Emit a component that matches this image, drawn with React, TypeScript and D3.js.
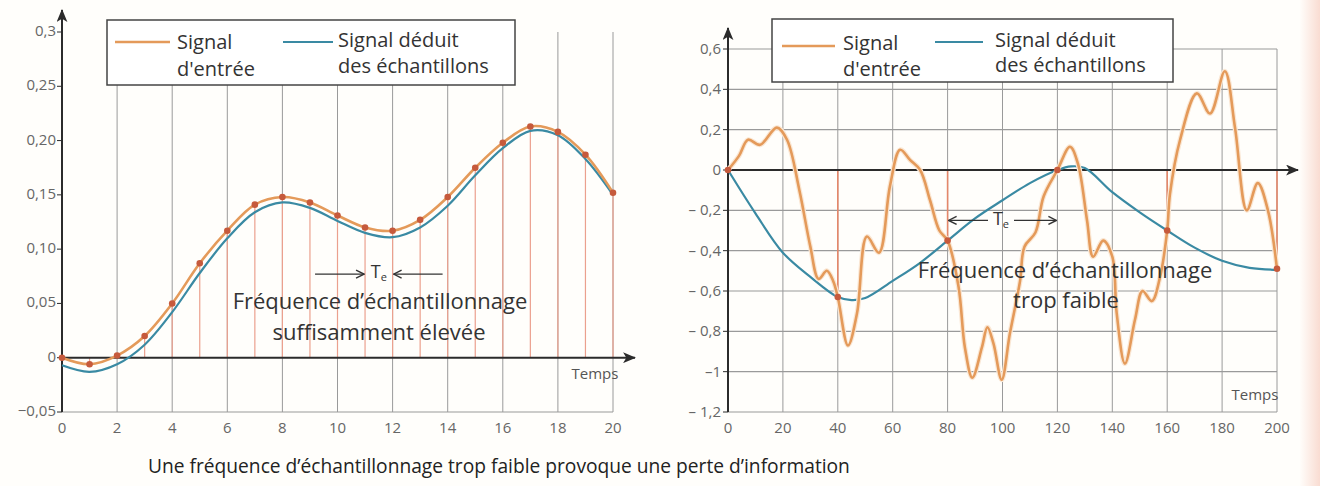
import React from 'react';
import * as d3 from 'd3';

// left chart: sufficiently high sampling rate
const leftT = [0, 1, 2, 3, 4, 5, 6, 7, 8, 9, 10, 11, 12, 13, 14, 15, 16, 17, 18, 19, 20];
const leftInput = [0, -0.006, 0.002, 0.02, 0.05, 0.087, 0.117, 0.141, 0.148, 0.143, 0.131, 0.12, 0.117, 0.127, 0.148, 0.175, 0.198, 0.213, 0.208, 0.187, 0.152];
const leftDeduced = [-0.007, -0.013, -0.006, 0.012, 0.042, 0.078, 0.11, 0.134, 0.143, 0.138, 0.126, 0.115, 0.111, 0.12, 0.14, 0.168, 0.193, 0.209, 0.205, 0.183, 0.15];
const leftYTicks = [0.3, 0.25, 0.2, 0.15, 0.1, 0.05, 0, -0.05];
const leftYLabels = ['0,3', '0,25', '0,20', '0,15', '0,10', '0,05', '0', '\u22120,05'];
const leftXTicks = [0, 2, 4, 6, 8, 10, 12, 14, 16, 18, 20];

// right chart: sampling rate too low
const rightInputT = [0, 4, 7.3, 11.7, 17.8, 21.5, 26, 30, 33, 36, 38.3, 40, 43.7, 47, 50.6, 55, 59, 62.7, 66.3, 70, 73.6, 77, 80, 84, 86.3, 89, 92.5, 94.5, 96.7, 99.7, 102.7, 106.4, 108, 112, 115, 120, 124.6, 127.5, 130.8, 133, 136.7, 140, 141.6, 144.6, 148.3, 151, 154.4, 157.4, 160, 161, 164.7, 170.8, 175.6, 181, 184.7, 189, 193, 196.7, 200];
const rightInputV = [0, 0.07, 0.15, 0.125, 0.21, 0.15, -0.1, -0.38, -0.54, -0.5, -0.55, -0.63, -0.87, -0.71, -0.33, -0.41, -0.08, 0.1, 0.05, 0, -0.15, -0.3, -0.35, -0.58, -0.88, -1.03, -0.88, -0.78, -0.86, -1.04, -0.81, -0.55, -0.38, -0.31, -0.13, 0, 0.115, 0.03, -0.25, -0.43, -0.35, -0.43, -0.71, -0.96, -0.74, -0.6, -0.65, -0.53, -0.3, -0.12, 0.15, 0.38, 0.28, 0.49, 0.21, -0.2, -0.065, -0.2, -0.49];
const rightDeducedT = [0, 10, 20, 30, 40, 45, 50, 60, 70, 80, 90, 100, 110, 120, 125, 130, 140, 150, 160, 170, 180, 190, 200];
const rightDeducedV = [0, -0.215, -0.41, -0.53, -0.63, -0.645, -0.635, -0.55, -0.46, -0.35, -0.24, -0.15, -0.065, 0, 0.018, 0.01, -0.11, -0.21, -0.3, -0.385, -0.45, -0.485, -0.495];
const rightSampleT = [0, 40, 80, 120, 160, 200];
const rightSampleV = [0, -0.63, -0.35, 0, -0.3, -0.49];
const rightYTicks = [0.6, 0.4, 0.2, 0, -0.2, -0.4, -0.6, -0.8, -1, -1.2];
const rightYLabels = ['0,6', '0,4', '0,2', '0', '\u2013 0,2', '\u2013 0,4', '\u2013 0,6', '\u2013 0,8', '\u20131', '\u2013 1,2'];
const rightXTicks = [0, 20, 40, 60, 80, 100, 120, 140, 160, 180, 200];

const caption = 'Une fr\u00e9quence d\u2019\u00e9chantillonnage trop faible provoque une perte d\u2019information';

const ORANGE = '#e49a5a';
const BLUE = '#3a8aa3';
const DOT = '#c65a3c';
const STEM = '#eba08e';
const GRID = '#9a9a9a';
const AXIS = '#2b2b2b';
const TICK = '#666';
const FONT = '"Open Sans", "Noto Sans", sans-serif';

const Te = ({ x, y }: { x: number; y: number }) => (
  <text x={x} y={y} fontSize={18} fill="#333" textAnchor="middle" fontFamily={FONT}>
    T<tspan fontSize={11} dy={3}>e</tspan>
  </text>
);

export default function App() {
  const xL = d3.scaleLinear().domain([0, 20]).range([62, 613]);
  const yL = d3.scaleLinear().domain([-0.05, 0.3]).range([412, 32]);
  const xR = d3.scaleLinear().domain([0, 200]).range([728, 1277]);
  const yR = d3.scaleLinear().domain([-1.2, 0.6]).range([412, 49]);

  const lineL = (vals: number[]) =>
    d3.line<number>().x((_, i) => xL(leftT[i])).y(d => yL(d)).curve(d3.curveCatmullRom)(vals) || '';
  const lineR = (ts: number[], vals: number[]) =>
    d3.line<number>().x((_, i) => xR(ts[i])).y(d => yR(d)).curve(d3.curveCatmullRom)(vals) || '';

  return (
    <div style={{ position: 'absolute', left: 0, top: 0 }}>
      <svg width={1320} height={486} style={{ display: 'block', fontFamily: FONT }}>
        <defs>
          <marker id="axArrow" viewBox="0 0 12 10" refX={11} refY={5} markerWidth={13} markerHeight={11} markerUnits="userSpaceOnUse" orient="auto">
            <path d="M0,0 L12,5 L0,10 L3,5 z" fill={AXIS} />
          </marker>
          <marker id="teArrow" viewBox="0 0 10 10" refX={9} refY={5} markerWidth={10} markerHeight={10} markerUnits="userSpaceOnUse" orient="auto">
            <path d="M1,1 L9,5 L1,9" fill="none" stroke="#333" strokeWidth={1.4} />
          </marker>
          <linearGradient id="edge" x1="0" x2="1" y1="0" y2="0">
            <stop offset="0" stopColor="#fffdfa" />
            <stop offset="1" stopColor="#f9dcd2" />
          </linearGradient>
        </defs>
        <rect width={1320} height={486} fill="#fffefb" />
        <rect x={1300} width={20} height={486} fill="url(#edge)" />

        {/* ===== left chart ===== */}
        {leftXTicks.filter(t => t > 0).map(t => (
          <line key={'lg' + t} x1={xL(t)} x2={xL(t)} y1={yL(0.3)} y2={yL(-0.05)} stroke={GRID} strokeWidth={1} />
        ))}
        <line x1={xL(0)} x2={xL(20)} y1={yL(-0.05)} y2={yL(-0.05)} stroke={GRID} strokeWidth={1.2} />
        {leftT.map((t, i) => (
          <line key={'ls' + t} x1={xL(t)} x2={xL(t)} y1={yL(0)} y2={yL(leftInput[i])} stroke={STEM} strokeWidth={1.2} />
        ))}
        {leftYTicks.map((v, i) => (
          <g key={'ly' + v}>
            <line x1={xL(0) - 5} x2={xL(0)} y1={yL(v)} y2={yL(v)} stroke={AXIS} strokeWidth={1} />
            <text x={xL(0) - 6} y={yL(v) + 4} fontSize={15} fill={TICK} textAnchor="end">{leftYLabels[i]}</text>
          </g>
        ))}
        {leftXTicks.map(t => (
          <text key={'lx' + t} x={xL(t)} y={yL(-0.05) + 21} fontSize={15} fill={TICK} textAnchor="middle">{t}</text>
        ))}
        <line x1={xL(0)} x2={xL(20) + 22} y1={yL(0)} y2={yL(0)} stroke={AXIS} strokeWidth={2} markerEnd="url(#axArrow)" />
        <line x1={xL(0)} x2={xL(0)} y1={yL(-0.05)} y2={yL(0.3) - 22} stroke={AXIS} strokeWidth={2} markerEnd="url(#axArrow)" />
        <text x={xL(20) - 18} y={yL(0) + 21} fontSize={15} fill="#555" textAnchor="middle">Temps</text>

        <path d={lineL(leftDeduced)} fill="none" stroke={BLUE} strokeWidth={2.2} />
        <path d={lineL(leftInput)} fill="none" stroke={ORANGE} strokeWidth={2.6} />
        {leftT.map((t, i) => (
          <circle key={'ld' + t} cx={xL(t)} cy={yL(leftInput[i])} r={3.3} fill={DOT} />
        ))}

        <line x1={xL(11) - 50} x2={xL(11) - 1} y1={yL(0.077)} y2={yL(0.077)} stroke="#333" strokeWidth={1.4} markerEnd="url(#teArrow)" />
        <line x1={xL(12) + 50} x2={xL(12) + 1} y1={yL(0.077)} y2={yL(0.077)} stroke="#333" strokeWidth={1.4} markerEnd="url(#teArrow)" />
        <Te x={(xL(11) + xL(12)) / 2} y={yL(0.077) + 4} />
        <text x={380} y={309} fontSize={22} fill="#333" textAnchor="middle">Fréquence d’échantillonnage</text>
        <text x={379} y={340} fontSize={22} fill="#333" textAnchor="middle">suffisamment élevée</text>

        <rect x={107} y={20} width={408} height={65} fill="#fff" stroke="#444" strokeWidth={1.5} />
        <line x1={115} x2={170} y1={42} y2={42} stroke={ORANGE} strokeWidth={2.6} />
        <text x={177} y={49} fontSize={20} fill="#333">Signal</text>
        <text x={177} y={76} fontSize={20} fill="#333">d'entrée</text>
        <line x1={283} x2={333} y1={42} y2={42} stroke={BLUE} strokeWidth={2.2} />
        <text x={338} y={47} fontSize={20} fill="#333">Signal déduit</text>
        <text x={338} y={73} fontSize={20} fill="#333">des échantillons</text>

        {/* ===== right chart ===== */}
        {rightXTicks.filter(t => t > 0).map(t => (
          <line key={'rg' + t} x1={xR(t)} x2={xR(t)} y1={yR(0.6)} y2={yR(-1.2)} stroke={GRID} strokeWidth={1} />
        ))}
        {rightYTicks.map(v => (
          <line key={'rh' + v} x1={xR(0)} x2={xR(200)} y1={yR(v)} y2={yR(v)} stroke={GRID} strokeWidth={1.2} />
        ))}
        {rightSampleT.map((t, i) => (
          <line key={'rs' + t} x1={xR(t)} x2={xR(t)} y1={yR(0)} y2={yR(rightSampleV[i])} stroke="#e4876a" strokeWidth={1.6} />
        ))}
        {rightYTicks.map((v, i) => (
          <g key={'ry' + v}>
            <line x1={xR(0) - 5} x2={xR(0)} y1={yR(v)} y2={yR(v)} stroke={AXIS} strokeWidth={1} />
            <text x={xR(0) - 7} y={yR(v) + 5} fontSize={15} fill={TICK} textAnchor="end">{rightYLabels[i]}</text>
          </g>
        ))}
        {rightXTicks.map(t => (
          <text key={'rx' + t} x={xR(t)} y={yR(-1.2) + 21} fontSize={15} fill={TICK} textAnchor="middle">{t}</text>
        ))}
        <line x1={xR(0)} x2={xR(200) + 21} y1={yR(0)} y2={yR(0)} stroke={AXIS} strokeWidth={2} markerEnd="url(#axArrow)" />
        <line x1={xR(0)} x2={xR(0)} y1={yR(-1.2)} y2={yR(0.6) - 21} stroke={AXIS} strokeWidth={2} markerEnd="url(#axArrow)" />
        <text x={xR(200) - 22} y={yR(-1.2) - 12} fontSize={15} fill="#555" textAnchor="middle">Temps</text>

        <path d={lineR(rightDeducedT, rightDeducedV)} fill="none" stroke={BLUE} strokeWidth={2.2} />
        <path d={lineR(rightInputT, rightInputV)} fill="none" stroke="#fae7d4" strokeWidth={5} strokeLinejoin="round" />
        <path d={lineR(rightInputT, rightInputV)} fill="none" stroke={ORANGE} strokeWidth={2.6} strokeLinejoin="round" />
        {rightSampleT.map((t, i) => (
          <circle key={'rd' + t} cx={xR(t)} cy={yR(rightSampleV[i])} r={3.3} fill={DOT} />
        ))}

        <line x1={1000 - 12} x2={xR(80) + 1} y1={yR(-0.25)} y2={yR(-0.25)} stroke="#333" strokeWidth={1.4} markerEnd="url(#teArrow)" />
        <line x1={1000 + 14} x2={xR(120) - 1} y1={yR(-0.25)} y2={yR(-0.25)} stroke="#333" strokeWidth={1.4} markerEnd="url(#teArrow)" />
        <Te x={1001} y={yR(-0.25) + 5} />
        <text x={1065} y={278} fontSize={22} fill="#333" textAnchor="middle">Fréquence d’échantillonnage</text>
        <text x={1066} y={308} fontSize={22} fill="#333" textAnchor="middle">trop faible</text>

        <rect x={772} y={19} width={401} height={63} fill="#fff" stroke="#444" strokeWidth={1.5} />
        <line x1={782} x2={835} y1={46} y2={46} stroke={ORANGE} strokeWidth={2.6} />
        <text x={843} y={50} fontSize={20} fill="#333">Signal</text>
        <text x={843} y={76} fontSize={20} fill="#333">d'entrée</text>
        <line x1={935} x2={983} y1={42} y2={42} stroke={BLUE} strokeWidth={2.2} />
        <text x={995} y={47} fontSize={20} fill="#333">Signal déduit</text>
        <text x={995} y={72} fontSize={20} fill="#333">des échantillons</text>

        <text x={148} y={473} fontSize={19.2} fill="#222">{caption}</text>
      </svg>
    </div>
  );
}
